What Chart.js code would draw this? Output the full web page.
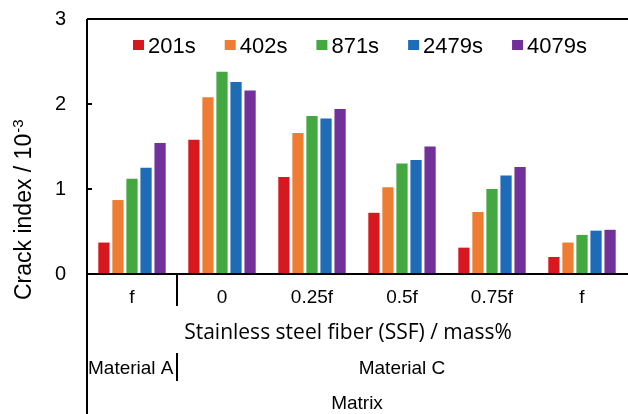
<!DOCTYPE html>
<html>
<head>
<meta charset="utf-8">
<script src="https://cdn.jsdelivr.net/npm/chart.js@4.4.1/dist/chart.umd.min.js"></script>
<style>
  html, body { margin: 0; padding: 0; background: #fff; }
  canvas { display: block; }
</style>
</head>
<body>
<canvas id="c" width="628" height="414"></canvas>
<script>
// Crack index (x10^-3) after each exposure time, per SSF content
const categories = ['f', '0', '0.25f', '0.5f', '0.75f', 'f'];
const seriesNames = ['201s', '402s', '871s', '2479s', '4079s'];
const s201  = [0.37, 1.58, 1.14, 0.72, 0.31, 0.20];
const s402  = [0.87, 2.08, 1.66, 1.02, 0.73, 0.37];
const s871  = [1.12, 2.38, 1.86, 1.30, 1.00, 0.46];
const s2479 = [1.25, 2.26, 1.83, 1.34, 1.16, 0.51];
const s4079 = [1.54, 2.16, 1.94, 1.50, 1.26, 0.52];
const yTicks = [0, 1, 2, 3];
const seriesColors = ['#D7191F', '#EE7D33', '#43A83F', '#1E6BB8', '#72309B'];

const xTitle = 'Stainless steel fiber (SSF) / mass%';
const yTitleMain = 'Crack index / 10';
const yTitleSup = '-3';
const groupA = 'Material A';
const groupC = 'Material C';
const groupAll = 'Matrix';

const seriesValues = [s201, s402, s871, s2479, s4079];
const datasets = seriesNames.map((name, i) => ({
  label: name,
  data: seriesValues[i],
  backgroundColor: seriesColors[i],
  borderWidth: 0,
  categoryPercentage: 0.78,
  barPercentage: 0.8
}));

const ARIAL = '"Liberation Sans", Arial, sans-serif';

// Frame, inward ticks, group captions, rotated title and in-plot legend
const decorations = {
  id: 'decorations',
  afterDraw(chart) {
    const ctx = chart.ctx;
    const a = chart.chartArea;
    const xs = chart.scales.x;
    const ys = chart.scales.y;
    ctx.save();
    ctx.strokeStyle = '#000';
    ctx.fillStyle = '#000';
    ctx.lineWidth = 2;

    // top border and full-height left axis
    ctx.beginPath();
    ctx.moveTo(a.left, a.top);
    ctx.lineTo(chart.width, a.top);
    ctx.moveTo(a.left, a.top);
    ctx.lineTo(a.left, chart.height);
    ctx.moveTo(a.left, a.bottom);
    ctx.lineTo(a.right + 1, a.bottom);
    ctx.stroke();

    // inward y tick marks
    ctx.beginPath();
    yTicks.forEach(v => {
      const y = ys.getPixelForValue(v);
      ctx.moveTo(a.left, y);
      ctx.lineTo(a.left + 5, y);
    });
    ctx.stroke();

    // separator between Material A and Material C
    const sepX = Math.round((xs.getPixelForValue(0) + xs.getPixelForValue(1)) / 2);
    ctx.beginPath();
    ctx.moveTo(sepX, a.bottom);
    ctx.lineTo(sepX, a.bottom + 32);
    ctx.moveTo(sepX, a.bottom + 79);
    ctx.lineTo(sepX, a.bottom + 107);
    ctx.stroke();

    // x axis title
    ctx.font = '21px "Open Sans", sans-serif';
    ctx.textAlign = 'center';
    ctx.textBaseline = 'alphabetic';
    ctx.fillText(xTitle, (a.left + a.right) / 2 - 9, a.bottom + 65);

    // group captions
    ctx.font = '19px ' + ARIAL;
    ctx.textAlign = 'left';
    ctx.fillText(groupA, a.left + 1, a.bottom + 100);
    ctx.textAlign = 'center';
    ctx.fillText(groupC, (sepX + a.right) / 2, a.bottom + 100);
    ctx.fillText(groupAll, (a.left + a.right) / 2, a.bottom + 135);

    // rotated y title with superscript exponent
    ctx.save();
    ctx.translate(31, 300);
    ctx.rotate(-Math.PI / 2);
    ctx.textAlign = 'left';
    ctx.font = '23px ' + ARIAL;
    ctx.fillText(yTitleMain, 0, 0);
    const w = ctx.measureText(yTitleMain).width;
    ctx.font = '15px ' + ARIAL;
    ctx.fillText(yTitleSup, w + 1, -8);
    ctx.restore();

    // legend inside the plot
    ctx.font = '22px ' + ARIAL;
    ctx.textAlign = 'left';
    const box = 11, boxGap = 4, itemGap = 29;
    const widths = seriesNames.map(n => ctx.measureText(n).width);
    const total = widths.reduce((s, v) => s + v, 0) + seriesNames.length * (box + boxGap) + (seriesNames.length - 1) * itemGap;
    let x = (a.left + a.right) / 2 + 3 - total / 2;
    const cy = a.top + 26;
    seriesNames.forEach((n, i) => {
      ctx.fillStyle = seriesColors[i];
      ctx.fillRect(x, cy - 5, box, 10);
      ctx.fillStyle = '#000';
      ctx.fillText(n, x + box + boxGap, cy + 8);
      x += box + boxGap + widths[i] + itemGap;
    });
    ctx.restore();
  }
};

new Chart(document.getElementById('c'), {
  type: 'bar',
  data: { labels: categories, datasets },
  options: {
    responsive: false,
    animation: false,
    devicePixelRatio: 1,
    layout: { padding: { top: 19, right: 1, bottom: 0, left: 0 } },
    plugins: { legend: { display: false }, tooltip: { enabled: false } },
    scales: {
      x: {
        grid: { display: false, drawTicks: false },
        border: { display: false },
        ticks: { color: '#000', font: { family: ARIAL, size: 19 }, padding: 12, maxRotation: 0, autoSkip: false },
        afterFit(scale) { scale.height = 140; }
      },
      y: {
        min: 0,
        max: 3,
        afterBuildTicks(scale) { scale.ticks = yTicks.map(v => ({ value: v })); },
        grid: { display: false, drawTicks: false },
        border: { display: false },
        ticks: { color: '#000', font: { family: ARIAL, size: 20 }, padding: 21 },
        afterFit(scale) {
          scale.width = 87;
          scale.paddingTop = 0;
          scale.paddingBottom = 0;
        }
      }
    }
  },
  plugins: [decorations]
});
</script>
</body>
</html>
